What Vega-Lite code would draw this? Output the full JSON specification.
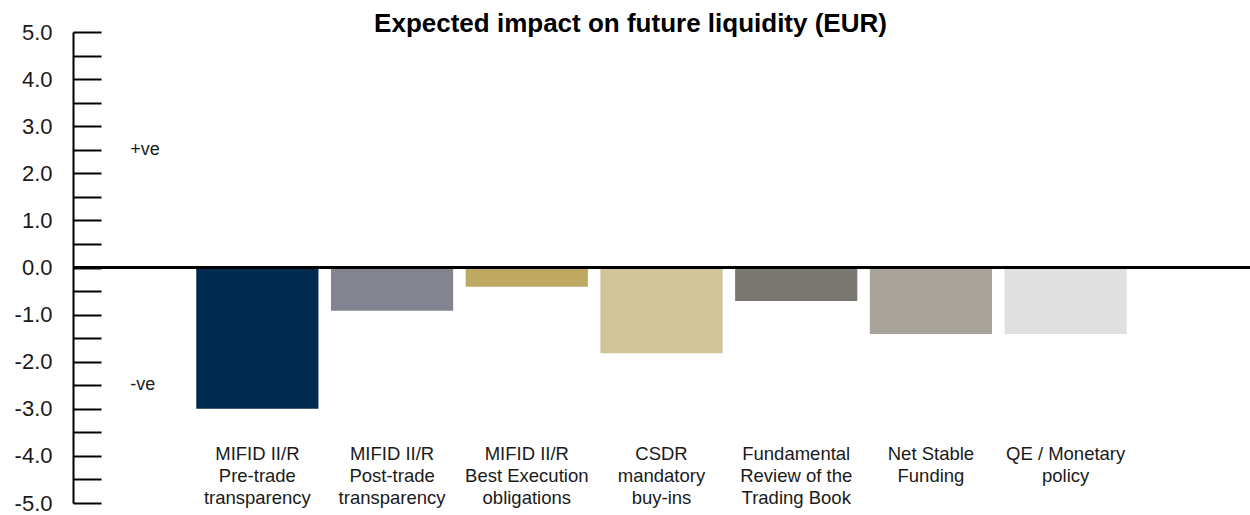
{
  "$schema": "https://vega.github.io/schema/vega-lite/v6.json",
  "width": 1177,
  "height": 471,
  "autosize": {"type": "none"},
  "padding": {"left": 73, "top": 32, "right": 0, "bottom": 12},
  "background": "white",
  "config": {"view": {"stroke": null}, "font": "Liberation Sans"},
  "title": {
    "text": "Expected impact on future liquidity (EUR)",
    "font": "Liberation Sans",
    "fontSize": 26,
    "fontWeight": "bold",
    "color": "#000000",
    "anchor": "middle",
    "dx": -31,
    "dy": 38,
    "baseline": "alphabetic",
    "offset": 1
  },
  "data": {
    "values": [
      {"cat": "MIFID II/R\nPre-trade\ntransparency", "value": -3.0},
      {"cat": "MIFID II/R\nPost-trade\ntransparency", "value": -0.92},
      {"cat": "MIFID II/R\nBest Execution\nobligations", "value": -0.41},
      {"cat": "CSDR\nmandatory\nbuy-ins", "value": -1.82},
      {"cat": "Fundamental\nReview of the\nTrading Book", "value": -0.71},
      {"cat": "Net Stable\nFunding", "value": -1.41},
      {"cat": "QE / Monetary\npolicy", "value": -1.41}
    ]
  },
  "layer": [
    {
      "mark": {"type": "bar"},
      "encoding": {
        "x": {
          "field": "cat",
          "type": "nominal",
          "sort": null,
          "scale": {"paddingInner": 0.093, "paddingOuter": 0.915},
          "axis": null
        },
        "y": {
          "field": "value",
          "type": "quantitative",
          "scale": {"domain": [-5, 5], "nice": false, "zero": false},
          "axis": {
            "title": null,
            "tickCount": 20,
            "labelExpr": "abs(datum.value % 1) > 0.01 ? '' : (datum.value < 0 ? '-' + format(-datum.value, '.1f') : format(datum.value, '.1f'))",
            "labelFont": "Liberation Sans",
            "labelFontSize": 22,
            "labelColor": "#1a1a1a",
            "labelPadding": 49,
            "labelFlush": false,
            "labelOverlap": false,
            "tickSize": -28,
            "tickColor": "#000000",
            "tickWidth": 2,
            "domainColor": "#000000",
            "domainWidth": 2,
            "grid": false
          }
        },
        "color": {
          "field": "cat",
          "type": "nominal",
          "sort": null,
          "scale": {
            "domain": [
              "MIFID II/R\nPre-trade\ntransparency",
              "MIFID II/R\nPost-trade\ntransparency",
              "MIFID II/R\nBest Execution\nobligations",
              "CSDR\nmandatory\nbuy-ins",
              "Fundamental\nReview of the\nTrading Book",
              "Net Stable\nFunding",
              "QE / Monetary\npolicy"
            ],
            "range": ["#002a4e", "#82858f", "#bfa862", "#d2c49a", "#7a7771", "#a8a49c", "#e0e0e0"]
          },
          "legend": null
        }
      }
    },
    {
      "mark": {"type": "rule", "color": "#000000", "strokeWidth": 2},
      "encoding": {"y": {"datum": 0, "type": "quantitative"}}
    },
    {
      "mark": {
        "type": "text",
        "font": "Liberation Sans",
        "fontSize": 18.5,
        "color": "#1a1a1a",
        "lineBreak": "\n",
        "lineHeight": 22,
        "baseline": "alphabetic",
        "align": "center"
      },
      "encoding": {
        "x": {"field": "cat", "type": "nominal", "sort": null},
        "y": {"datum": -4.08, "type": "quantitative"},
        "text": {"field": "cat", "type": "nominal"}
      }
    },
    {
      "data": {"values": [{"t": "+ve", "v": 2.5}, {"t": "-ve", "v": -2.5}]},
      "mark": {
        "type": "text",
        "font": "Liberation Sans",
        "fontSize": 18,
        "color": "#1a1a1a",
        "align": "left",
        "baseline": "middle",
        "dx": -127
      },
      "encoding": {
        "x": {"datum": "MIFID II/R\nPre-trade\ntransparency", "type": "nominal"},
        "y": {"field": "v", "type": "quantitative"},
        "text": {"field": "t", "type": "nominal"}
      }
    }
  ]
}
